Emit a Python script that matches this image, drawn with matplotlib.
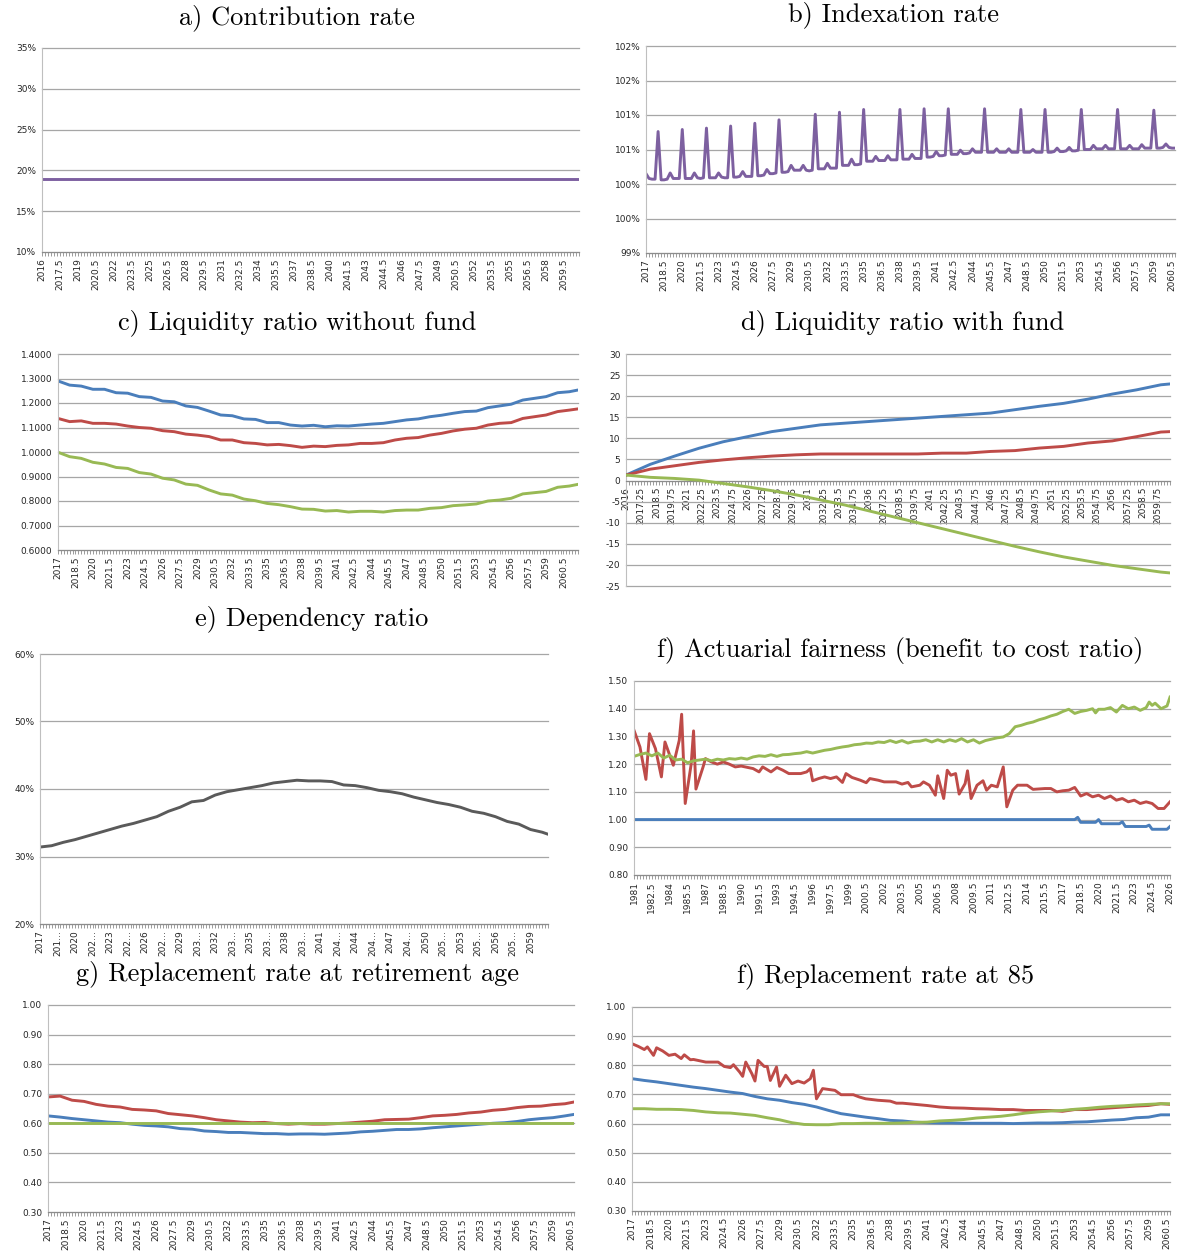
import numpy as np
import matplotlib.pyplot as plt
from matplotlib.ticker import FixedLocator

W, H = 1178, 1257
BLUE = '#4a7ebb'
RED = '#be4b48'
GREEN = '#98b954'
PURPLE = '#7d60a0'
DGRAY = '#5a5a5a'

# a) contribution rate
a_years = [2016, 2060.75]
a_rate = [0.19, 0.19]

# b) indexation rate, quarterly from 2017 (percent)
b_idx = [
    100.15, 100.08, 100.07, 100.07, 100.76, 100.06, 100.06, 100.07,
    100.16, 100.08, 100.08, 100.08, 100.79, 100.08, 100.08, 100.08,
    100.16, 100.09, 100.08, 100.09, 100.81, 100.09, 100.09, 100.09,
    100.16, 100.10, 100.09, 100.09, 100.84, 100.10, 100.10, 100.11,
    100.18, 100.11, 100.11, 100.11, 100.88, 100.12, 100.12, 100.13,
    100.21, 100.15, 100.15, 100.16, 100.93, 100.17, 100.17, 100.18,
    100.27, 100.20, 100.20, 100.20, 100.27, 100.20, 100.19, 100.20,
    101.01, 100.22, 100.22, 100.22, 100.30, 100.23, 100.23, 100.23,
    101.04, 100.27, 100.27, 100.27, 100.36, 100.28, 100.28, 100.29,
    101.08, 100.33, 100.33, 100.33, 100.40, 100.34, 100.34, 100.34,
    100.41, 100.35, 100.35, 100.35, 101.08, 100.36, 100.36, 100.36,
    100.43, 100.37, 100.37, 100.37, 101.09, 100.39, 100.39, 100.40,
    100.47, 100.41, 100.41, 100.42, 101.09, 100.43, 100.43, 100.43,
    100.49, 100.44, 100.44, 100.45, 100.51, 100.46, 100.46, 100.46,
    101.09, 100.46, 100.46, 100.46, 100.51, 100.46, 100.46, 100.46,
    100.51, 100.46, 100.46, 100.46, 101.08, 100.46, 100.46, 100.46,
    100.50, 100.46, 100.46, 100.46, 101.08, 100.46, 100.46, 100.47,
    100.52, 100.47, 100.47, 100.48, 100.53, 100.48, 100.48, 100.49,
    101.08, 100.50, 100.50, 100.50, 100.56, 100.51, 100.51, 100.51,
    100.56, 100.51, 100.51, 100.51, 101.08, 100.51, 100.51, 100.51,
    100.56, 100.51, 100.51, 100.51, 100.57, 100.52, 100.52, 100.52,
    101.07, 100.52, 100.52, 100.53, 100.58, 100.53, 100.52, 100.52,
]
b_years = 2017 + 0.25 * np.arange(len(b_idx))

# c) liquidity ratio without fund
c_years = list(range(2017, 2062)) + [2061.75]
c_blue = [1.290, 1.273, 1.269, 1.256, 1.256, 1.242, 1.240, 1.226, 1.223, 1.208,
          1.205, 1.188, 1.182, 1.167, 1.151, 1.148, 1.135, 1.133, 1.120, 1.120,
          1.110, 1.106, 1.109, 1.103, 1.107, 1.106, 1.110, 1.114, 1.117, 1.124,
          1.131, 1.135, 1.144, 1.150, 1.158, 1.165, 1.167, 1.181, 1.188, 1.195,
          1.212, 1.219, 1.226, 1.242, 1.246, 1.253]
c_red = [1.137, 1.124, 1.127, 1.117, 1.117, 1.114, 1.106, 1.100, 1.097, 1.087,
         1.083, 1.073, 1.069, 1.063, 1.049, 1.049, 1.038, 1.035, 1.029, 1.031,
         1.026, 1.019, 1.024, 1.022, 1.027, 1.029, 1.035, 1.035, 1.038, 1.049,
         1.056, 1.059, 1.069, 1.076, 1.086, 1.093, 1.097, 1.110, 1.117, 1.120,
         1.137, 1.144, 1.151, 1.165, 1.171, 1.176]
c_green = [0.999, 0.981, 0.974, 0.958, 0.951, 0.937, 0.933, 0.916, 0.910, 0.893,
           0.886, 0.869, 0.864, 0.845, 0.829, 0.824, 0.808, 0.801, 0.790, 0.785,
           0.777, 0.767, 0.766, 0.759, 0.761, 0.755, 0.758, 0.758, 0.755, 0.761,
           0.763, 0.763, 0.770, 0.773, 0.781, 0.784, 0.788, 0.800, 0.804, 0.811,
           0.829, 0.834, 0.839, 0.856, 0.861, 0.868]

# d) liquidity ratio with fund
d_years = list(range(2016, 2061, 2)) + [2060.75]
d_blue = [1.3, 3.85, 5.8, 7.65, 9.2, 10.4, 11.6, 12.4, 13.2, 13.6, 14.0, 14.4,
          14.8, 15.2, 15.6, 16.0, 16.8, 17.6, 18.3, 19.3, 20.5, 21.5, 22.7, 22.9]
d_red = [1.3, 2.7, 3.5, 4.3, 4.9, 5.4, 5.8, 6.1, 6.3, 6.3, 6.3, 6.3,
         6.3, 6.5, 6.5, 6.9, 7.1, 7.7, 8.1, 8.9, 9.4, 10.4, 11.5, 11.6]
d_green = [1.3, 0.76, 0.5, 0.1, -0.7, -1.5, -2.4, -3.4, -4.6, -5.8, -7.2, -8.6,
           -10.0, -11.4, -12.8, -14.2, -15.6, -16.9, -18.1, -19.1, -20.1, -20.9,
           -21.7, -21.9]

# e) dependency ratio (percent)
e_years = list(range(2017, 2061)) + [2060.5]
e_dep = [31.4, 31.6, 32.1, 32.5, 33.0, 33.5, 34.0, 34.5, 34.9, 35.4,
         35.9, 36.7, 37.3, 38.1, 38.3, 39.1, 39.6, 39.9, 40.2, 40.5,
         40.9, 41.1, 41.3, 41.2, 41.2, 41.1, 40.6, 40.5, 40.2, 39.8,
         39.6, 39.3, 38.8, 38.4, 38.0, 37.7, 37.3, 36.7, 36.4, 35.9,
         35.2, 34.8, 34.0, 33.6, 33.3]

# f) actuarial fairness
f_blue_years = [1981, 2018, 2018.25, 2018.5, 2019.75, 2020, 2020.25, 2021.75,
                2022, 2022.25, 2024, 2024.25, 2024.5, 2025.75, 2026]
f_blue = [1.0, 1.0, 1.008, 0.99, 0.99, 1.0, 0.985, 0.985,
          0.992, 0.975, 0.975, 0.98, 0.965, 0.965, 0.975]
f_red_years = [1981, 1981.5, 1982, 1982.3, 1982.8, 1983.3, 1983.6, 1984, 1984.3,
               1984.8, 1985, 1985.3, 1985.8, 1986, 1986.2, 1986.8, 1987, 1987.5,
               1988, 1988.5, 1989, 1989.5, 1990, 1991, 1991.5, 1991.8, 1992.5,
               1993, 1993.5, 1994, 1995, 1995.5, 1995.8, 1996, 1996.5, 1997,
               1997.5, 1998, 1998.5, 1998.8, 1999.3, 2000, 2000.5, 2000.8, 2001.5,
               2002, 2003, 2003.5, 2004, 2004.3, 2005, 2005.3, 2005.8, 2006.3,
               2006.5, 2007, 2007.3, 2007.6, 2008, 2008.3, 2008.8, 2009, 2009.3,
               2009.8, 2010.3, 2010.6, 2011, 2011.5, 2012, 2012.3, 2012.8, 2013.2,
               2014, 2014.5, 2015.5, 2016, 2016.5, 2017, 2017.5, 2018, 2018.5,
               2019, 2019.5, 2020, 2020.5, 2021, 2021.5, 2022, 2022.5, 2023,
               2023.5, 2024, 2024.5, 2025, 2025.5, 2026]
f_red = [1.322, 1.262, 1.145, 1.310, 1.256, 1.154, 1.280, 1.232, 1.196,
         1.286, 1.380, 1.058, 1.200, 1.320, 1.110, 1.190, 1.220, 1.208,
         1.200, 1.208, 1.200, 1.190, 1.193, 1.184, 1.172, 1.190, 1.172,
         1.188, 1.178, 1.166, 1.166, 1.172, 1.184, 1.140, 1.148, 1.154,
         1.148, 1.154, 1.134, 1.166, 1.152, 1.142, 1.133, 1.148, 1.142,
         1.136, 1.136, 1.128, 1.134, 1.118, 1.124, 1.136, 1.124, 1.088,
         1.158, 1.076, 1.178, 1.160, 1.166, 1.092, 1.130, 1.176, 1.076,
         1.124, 1.140, 1.106, 1.124, 1.118, 1.190, 1.046, 1.106, 1.124,
         1.124, 1.109, 1.112, 1.112, 1.100, 1.104, 1.106, 1.116, 1.085,
         1.094, 1.082, 1.088, 1.076, 1.085, 1.070, 1.076, 1.064, 1.070,
         1.058, 1.064, 1.058, 1.040, 1.040, 1.064]
f_green_years = [1981, 1981.5, 1982, 1982.5, 1983, 1983.5, 1984, 1984.5, 1985,
                 1985.5, 1986, 1986.5, 1987, 1987.5, 1988, 1988.5, 1989, 1989.5,
                 1990, 1990.5, 1991, 1991.5, 1992, 1992.5, 1993, 1993.5, 1994,
                 1994.5, 1995, 1995.5, 1996, 1996.5, 1997, 1997.5, 1998, 1998.5,
                 1999, 1999.5, 2000, 2000.5, 2001, 2001.5, 2002, 2002.5, 2003,
                 2003.5, 2004, 2004.5, 2005, 2005.5, 2006, 2006.5, 2007, 2007.5,
                 2008, 2008.5, 2009, 2009.5, 2010, 2010.5, 2011, 2011.5, 2012,
                 2012.5, 2013, 2013.5, 2014, 2014.5, 2015, 2015.5, 2016, 2016.5,
                 2017, 2017.5, 2018, 2018.5, 2019, 2019.5, 2019.75, 2020, 2020.5,
                 2021, 2021.5, 2022, 2022.5, 2023, 2023.5, 2024, 2024.25, 2024.5,
                 2024.75, 2025.25, 2025.75, 2026]
f_green = [1.228, 1.235, 1.240, 1.230, 1.240, 1.222, 1.232, 1.215, 1.218,
           1.205, 1.212, 1.215, 1.218, 1.212, 1.218, 1.215, 1.220, 1.218,
           1.222, 1.218, 1.226, 1.230, 1.228, 1.234, 1.228, 1.234, 1.235,
           1.238, 1.240, 1.245, 1.240, 1.245, 1.250, 1.253, 1.258, 1.262,
           1.265, 1.270, 1.272, 1.276, 1.275, 1.280, 1.278, 1.285, 1.278,
           1.285, 1.276, 1.282, 1.283, 1.288, 1.280, 1.288, 1.280, 1.288,
           1.282, 1.292, 1.280, 1.288, 1.276, 1.285, 1.290, 1.295, 1.298,
           1.310, 1.335, 1.340, 1.347, 1.352, 1.360, 1.366, 1.374, 1.380,
           1.390, 1.398, 1.383, 1.390, 1.394, 1.400, 1.385, 1.398, 1.398,
           1.404, 1.388, 1.412, 1.400, 1.406, 1.394, 1.404, 1.424, 1.412,
           1.420, 1.400, 1.410, 1.442]

# g) replacement rate at retirement age
g_years = list(range(2017, 2061)) + [2060.75]
g_red = [0.689, 0.692, 0.678, 0.674, 0.664, 0.658, 0.655, 0.647, 0.645, 0.642,
         0.633, 0.629, 0.625, 0.619, 0.612, 0.608, 0.604, 0.602, 0.603, 0.599,
         0.597, 0.599, 0.597, 0.597, 0.599, 0.601, 0.604, 0.607, 0.612, 0.613,
         0.614, 0.619, 0.625, 0.627, 0.630, 0.635, 0.638, 0.644, 0.647, 0.653,
         0.657, 0.658, 0.663, 0.666, 0.672]
g_blue = [0.625, 0.621, 0.616, 0.612, 0.608, 0.604, 0.602, 0.597, 0.593, 0.591,
          0.588, 0.582, 0.580, 0.574, 0.572, 0.569, 0.569, 0.567, 0.565, 0.565,
          0.563, 0.564, 0.564, 0.563, 0.565, 0.567, 0.571, 0.573, 0.576, 0.579,
          0.579, 0.581, 0.585, 0.588, 0.591, 0.594, 0.597, 0.600, 0.602, 0.606,
          0.612, 0.616, 0.619, 0.625, 0.630]
g_green = [0.60] * len(g_years)

# h) replacement rate at 85
h_years = list(range(2017, 2061)) + [2060.75]
h_blue = [0.754, 0.748, 0.743, 0.737, 0.731, 0.725, 0.720, 0.714, 0.708, 0.703,
          0.693, 0.685, 0.680, 0.672, 0.666, 0.657, 0.645, 0.634, 0.628, 0.622,
          0.617, 0.611, 0.609, 0.605, 0.603, 0.602, 0.602, 0.601, 0.601, 0.601,
          0.601, 0.600, 0.601, 0.602, 0.602, 0.603, 0.605, 0.606, 0.609, 0.612,
          0.614, 0.620, 0.622, 0.630, 0.630]
h_green = [0.651, 0.651, 0.649, 0.649, 0.648, 0.645, 0.640, 0.637, 0.636, 0.632,
           0.628, 0.620, 0.613, 0.603, 0.597, 0.596, 0.596, 0.600, 0.600, 0.601,
           0.601, 0.601, 0.602, 0.604, 0.605, 0.609, 0.611, 0.614, 0.619, 0.622,
           0.625, 0.630, 0.636, 0.640, 0.643, 0.645, 0.649, 0.652, 0.656, 0.659,
           0.661, 0.664, 0.666, 0.668, 0.668]
h_red_years = [2017, 2017.5, 2018, 2018.25, 2018.75, 2019, 2019.5, 2020, 2020.5,
               2021, 2021.25, 2021.75, 2022, 2023, 2024, 2024.5, 2025, 2025.25,
               2025.75, 2026, 2026.25, 2026.75, 2027, 2027.25, 2027.75, 2028,
               2028.25, 2028.75, 2029, 2029.5, 2030, 2030.5, 2031, 2031.5,
               2031.75, 2032, 2032.5, 2033, 2033.5, 2034, 2035, 2035.5, 2036,
               2037, 2038, 2038.5, 2039, 2040, 2041, 2042, 2043, 2044, 2045,
               2046, 2047, 2048, 2049, 2050, 2051, 2052, 2053, 2054, 2055, 2056,
               2057, 2058, 2059, 2060, 2060.75]
h_red = [0.874, 0.865, 0.854, 0.863, 0.834, 0.860, 0.849, 0.834, 0.838,
         0.823, 0.836, 0.819, 0.820, 0.811, 0.811, 0.796, 0.792, 0.802,
         0.777, 0.762, 0.811, 0.771, 0.746, 0.817, 0.796, 0.796,
         0.748, 0.794, 0.728, 0.766, 0.737, 0.746, 0.739, 0.754,
         0.783, 0.685, 0.720, 0.717, 0.714, 0.699, 0.699, 0.691, 0.685,
         0.680, 0.677, 0.670, 0.670, 0.666, 0.662, 0.657, 0.654, 0.653, 0.651,
         0.650, 0.648, 0.648, 0.645, 0.645, 0.645, 0.642, 0.648, 0.648, 0.651,
         0.654, 0.657, 0.660, 0.662, 0.668, 0.666]

fig = plt.figure(figsize=(W / 100, H / 100), dpi=100)


def panel(l, r, t, b):
    return fig.add_axes([l / W, 1 - b / H, (r - l) / W, (b - t) / H])


def style(ax, xlim, xstart, xstep, xend, ylim, yticks, ylabels, trunc=False):
    ax.set_xlim(*xlim)
    ax.set_ylim(*ylim)
    xt = np.arange(xstart, xend + 1e-6, xstep)
    labs = []
    for v in xt:
        if trunc and v % 1:
            labs.append(str(int(v))[:3] + '\u2026')
        else:
            labs.append('%g' % v)
    ax.set_xticks(xt)
    ax.set_xticklabels(labs, rotation=90, fontsize=6.5, color='#262626')
    ax.xaxis.set_minor_locator(FixedLocator(np.arange(xlim[0], xlim[1] + 1e-6, 0.25)))
    ax.tick_params(axis='x', which='both', length=3, width=0.6, color='#8c8c8c', pad=1.5)
    ax.set_yticks(yticks)
    ax.set_yticklabels(ylabels, fontsize=6.5, color='#262626')
    ax.tick_params(axis='y', length=0, pad=4)
    ax.grid(axis='y', color='#a6a6a6', lw=0.9)
    for gl in ax.get_ygridlines():
        gl.set_clip_on(False)
    ax.set_axisbelow(True)
    for s in ('top', 'right'):
        ax.spines[s].set_visible(False)
    ax.spines['left'].set_color('#bfbfbf')
    ax.spines['bottom'].set_color('#8c8c8c')


def title(x, y, s):
    fig.text(x / W, 1 - y / H, s, ha='center', va='center', fontsize=19, family='cmr10')


LW = 2.1

# a
ax = panel(42, 579, 48, 252)
ax.plot(a_years, a_rate, color=PURPLE, lw=LW)
style(ax, (2016, 2060.75), 2016, 1.5, 2059.5, (0.10, 0.35),
      [0.10, 0.15, 0.20, 0.25, 0.30, 0.35], ['10%', '15%', '20%', '25%', '30%', '35%'])
title(297, 18, 'a) Contribution rate')

# b
ax = panel(646, 1175, 46, 253)
ax.plot(b_years, np.array(b_idx) / 100, color=PURPLE, lw=LW)
style(ax, (2017, 2060.75), 2017, 1.5, 2060.5, (0.99, 1.02),
      [0.99, 0.995, 1.0, 1.005, 1.01, 1.015, 1.02],
      ['99%', '100%', '100%', '101%', '101%', '102%', '102%'])
title(893, 15, 'b) Indexation rate')

# c
ax = panel(58, 578, 354, 550)
ax.plot(c_years, c_blue, color=BLUE, lw=LW)
ax.plot(c_years, c_red, color=RED, lw=LW)
ax.plot(c_years, c_green, color=GREEN, lw=LW)
cy = [0.6, 0.7, 0.8, 0.9, 1.0, 1.1, 1.2, 1.3, 1.4]
style(ax, (2017, 2061.75), 2017, 1.5, 2060.5, (0.6, 1.4), cy, ['%.4f' % v for v in cy])
title(297, 323, 'c) Liquidity ratio without fund')

# d  (x axis crosses at zero, lines drawn over the tick labels)
ax = panel(626, 1170, 354, 586)
ax.spines['bottom'].set_position(('data', 0))
ax.plot(d_years, d_blue, color=BLUE, lw=LW, zorder=3)
ax.plot(d_years, d_red, color=RED, lw=LW, zorder=3)
ax.plot(d_years, d_green, color=GREEN, lw=LW, zorder=3)
dy = list(range(-25, 31, 5))
style(ax, (2016, 2060.75), 2016, 1.25, 2059.75, (-25, 30), dy, [str(v) for v in dy])
title(903, 323, 'd) Liquidity ratio with fund')

# e
ax = panel(40, 548, 654, 924)
ax.plot(e_years, e_dep, color=DGRAY, lw=LW)
style(ax, (2017, 2060.5), 2017, 1.5, 2059, (20, 60),
      [20, 30, 40, 50, 60], ['20%', '30%', '40%', '50%', '60%'], trunc=True)
title(312, 619, 'e) Dependency ratio')

# f
ax = panel(634, 1170, 681, 875)
ax.plot(f_blue_years, f_blue, color=BLUE, lw=LW)
ax.plot(f_red_years, f_red, color=RED, lw=LW)
ax.plot(f_green_years, f_green, color=GREEN, lw=LW)
fy = [0.8, 0.9, 1.0, 1.1, 1.2, 1.3, 1.4, 1.5]
style(ax, (1981, 2026), 1981, 1.5, 2026, (0.8, 1.5), fy, ['%.2f' % v for v in fy])
title(900, 650, 'f) Actuarial fairness (benefit to cost ratio)')

# g
ax = panel(48, 574, 1005, 1212)
ax.plot(g_years, g_red, color=RED, lw=LW)
ax.plot(g_years, g_blue, color=BLUE, lw=LW)
ax.plot(g_years, g_green, color=GREEN, lw=LW)
gy = [0.3, 0.4, 0.5, 0.6, 0.7, 0.8, 0.9, 1.0]
style(ax, (2017, 2060.75), 2017, 1.5, 2060.5, (0.3, 1.0), gy, ['%.2f' % v for v in gy])
title(297, 974, 'g) Replacement rate at retirement age')

# h
ax = panel(632, 1170, 1007, 1211)
ax.plot(h_years, h_blue, color=BLUE, lw=LW)
ax.plot(h_red_years, h_red, color=RED, lw=LW)
ax.plot(h_years, h_green, color=GREEN, lw=LW)
style(ax, (2017, 2060.75), 2017, 1.5, 2060.5, (0.3, 1.0), gy, ['%.2f' % v for v in gy])
title(886, 976, 'f) Replacement rate at 85')

fig.savefig('out.png', dpi=100)
